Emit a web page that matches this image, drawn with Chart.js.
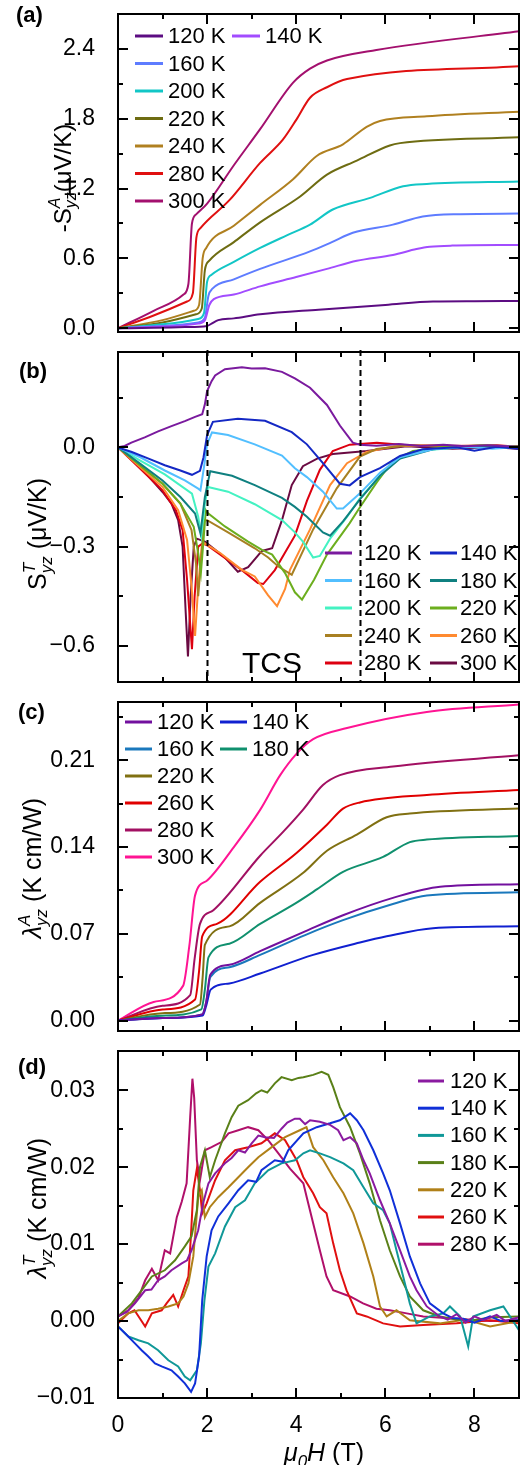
<!DOCTYPE html>
<html>
<head>
<meta charset="utf-8">
<script src="https://cdn.jsdelivr.net/npm/chart.js@4.4.1/dist/chart.umd.min.js"></script>
<style>
  html, body { margin: 0; padding: 0; background: #fff; }
  #wrap { position: relative; width: 522px; height: 1465px; overflow: hidden; }
  canvas { position: absolute; left: 0; }
</style>
</head>
<body>
<div id="wrap">
  <canvas id="pa" width="522" height="372" style="top:0px"></canvas>
  <canvas id="pb" width="522" height="390" style="top:332px"></canvas>
  <canvas id="pc" width="522" height="389" style="top:682px"></canvas>
  <canvas id="pd" width="522" height="434" style="top:1031px"></canvas>
</div>
<script>
// ─── DATA ────────────────────────────────────────────────
// shared field axis (T)
const xMajor = [0, 2, 4, 6, 8];
const xMinor = [1, 3, 5, 7, 9];
const xTickLabels = ['0', '2', '4', '6', '8'];

// (a) -S^A_yz (µV/K)
const labelsA = ['120 K', '140 K', '160 K', '200 K', '220 K', '240 K', '280 K', '300 K'];
const yMajorA = [0, 0.6, 1.2, 1.8, 2.4];
const yMinorA = [0.3, 0.9, 1.5, 2.1];
const yLabelsA = ['0.0', '0.6', '1.2', '1.8', '2.4'];
const A120 = [[0,0],[0.8,0.004],[1.5,0.01],[2.0,0.02],[2.1,0.04],[2.25,0.07],[2.6,0.085],[3.19,0.12],[4.5,0.16],[6.0,0.2],[7.07,0.23],[8,0.232],[9,0.234]];
const A140 = [[0,0],[1.0,0.015],[1.8,0.04],[1.95,0.07],[2.05,0.2],[2.15,0.25],[2.6,0.29],[3.19,0.36],[4.0,0.44],[4.69,0.51],[5.36,0.58],[6.17,0.63],[6.7,0.68],[7.0,0.70],[7.5,0.71],[9,0.715]];
const A160 = [[0,0],[1.0,0.02],[1.8,0.05],[1.95,0.09],[2.03,0.28],[2.12,0.34],[2.6,0.42],[3.19,0.51],[4.31,0.66],[4.8,0.74],[5.27,0.82],[6.17,0.89],[6.84,0.96],[7.68,0.98],[9,0.985]];
const A200 = [[0,0],[1.0,0.035],[1.8,0.08],[1.93,0.13],[2.0,0.4],[2.1,0.46],[2.6,0.57],[3.19,0.69],[3.8,0.8],[4.31,0.89],[4.82,1.02],[5.66,1.12],[6.4,1.22],[6.93,1.24],[9,1.26]];
const A220 = [[0,0],[1.0,0.05],[1.75,0.12],[1.88,0.17],[1.95,0.5],[2.05,0.58],[2.6,0.74],[3.19,0.91],[4.08,1.13],[4.69,1.32],[5.36,1.44],[6.1,1.57],[6.33,1.59],[9,1.64]];
const A240 = [[0,0],[1.0,0.07],[1.7,0.15],[1.82,0.2],[1.9,0.6],[1.98,0.69],[2.6,0.88],[3.19,1.06],[3.93,1.28],[4.46,1.48],[5.05,1.58],[5.58,1.73],[5.88,1.78],[6.93,1.82],[9,1.86]];
const A280 = [[0,0],[0.8,0.11],[1.55,0.23],[1.68,0.3],[1.76,0.78],[1.85,0.86],[2.5,1.1],[3.19,1.42],[3.7,1.62],[4.0,1.79],[4.31,1.98],[4.69,2.07],[5.14,2.14],[9,2.25]];
const A300 = [[0,0],[0.8,0.15],[1.47,0.29],[1.58,0.38],[1.66,0.9],[1.76,0.98],[2.0,1.07],[2.6,1.4],[3.19,1.71],[3.93,2.11],[4.31,2.23],[4.69,2.30],[5.8,2.39],[9,2.55]];
const seriesA = [A120, A140, A160, A200, A220, A240, A280, A300];

// (b) S^T_yz (µV/K)
const labelsB = ['120 K', '140 K', '160 K', '180 K', '200 K', '220 K', '240 K', '260 K', '280 K', '300 K'];
const yMajorB = [-0.6, -0.3, 0];
const yMinorB = [-0.45, -0.15, 0.15];
const yLabelsB = ['\u22120.6', '\u22120.3', '0.0'];
const B120 = [[0,0],[0.15,0.004],[0.3,0.014],[0.6,0.03],[0.9,0.048],[1.2,0.064],[1.5,0.079],[1.73,0.092],[1.89,0.10],[1.95,0.13],[2.0,0.17],[2.1,0.2],[2.18,0.217],[2.4,0.236],[2.78,0.242],[3.0,0.238],[3.3,0.239],[3.68,0.228],[3.97,0.208],[4.31,0.18],[4.69,0.128],[4.98,0.066],[5.27,0.014],[5.43,0.008],[5.8,0.005],[6.3,0.01],[6.8,0.004],[7.3,0.008],[7.8,0.003],[8.3,0.006],[9,0.002]];
const B140 = [[0,0],[0.31,-0.014],[0.7,-0.035],[1.05,-0.054],[1.4,-0.07],[1.66,-0.083],[1.84,-0.071],[1.92,-0.03],[2.0,0.037],[2.13,0.077],[2.69,0.086],[3.3,0.080],[3.9,0.046],[4.24,0.009],[4.6,-0.048],[4.98,-0.11],[5.2,-0.115],[5.43,-0.09],[5.88,-0.063],[6.33,-0.026],[6.84,-0.006],[7.6,0.0],[8.0,-0.01],[8.5,0.002],[9,-0.004]];
const B160 = [[0,0],[0.5,-0.03],[1.05,-0.07],[1.5,-0.1],[1.8,-0.125],[1.85,-0.13],[1.93,-0.06],[2.0,0.01],[2.11,0.045],[2.47,0.037],[3.07,0.009],[3.68,-0.025],[3.97,-0.063],[4.24,-0.09],[4.6,-0.134],[4.91,-0.185],[5.05,-0.185],[5.43,-0.139],[5.88,-0.077],[6.33,-0.03],[7.07,-0.006],[7.8,0.002],[8.4,-0.004],[9,0.001]];
const B180 = [[0,0],[0.5,-0.05],[1.0,-0.1],[1.4,-0.15],[1.73,-0.2],[1.85,-0.26],[1.95,-0.15],[2.07,-0.072],[2.56,-0.086],[3.07,-0.114],[3.68,-0.153],[3.97,-0.18],[4.24,-0.21],[4.6,-0.257],[4.76,-0.267],[5.05,-0.224],[5.43,-0.157],[5.88,-0.086],[6.33,-0.034],[7.07,-0.006],[8.0,0.003],[9,0.0]];
const B200 = [[0,0],[0.5,-0.04],[1.05,-0.082],[1.66,-0.14],[1.8,-0.21],[1.87,-0.267],[1.95,-0.17],[2.02,-0.12],[2.47,-0.134],[3.07,-0.172],[3.68,-0.22],[3.97,-0.257],[4.15,-0.285],[4.38,-0.333],[4.53,-0.328],[4.76,-0.276],[5.14,-0.21],[5.43,-0.154],[5.81,-0.097],[6.17,-0.043],[6.71,-0.011],[7.5,-0.002],[8.3,0.004],[9,0.001]];
const B220 = [[0,0],[0.5,-0.055],[1.0,-0.11],[1.4,-0.17],[1.7,-0.24],[1.8,-0.32],[1.86,-0.38],[1.92,-0.28],[1.97,-0.19],[2.0,-0.197],[2.4,-0.239],[2.92,-0.285],[3.23,-0.31],[3.46,-0.324],[3.75,-0.38],[3.97,-0.438],[4.13,-0.46],[4.4,-0.4],[4.69,-0.324],[5.2,-0.229],[5.43,-0.181],[5.81,-0.105],[6.17,-0.04],[6.62,-0.011],[7.3,0.0],[8.2,0.006],[9,0.002]];
const B240 = [[0,0],[0.5,-0.055],[1.0,-0.11],[1.4,-0.17],[1.65,-0.25],[1.75,-0.35],[1.8,-0.45],[1.86,-0.35],[1.93,-0.22],[2.0,-0.22],[2.47,-0.257],[3.07,-0.305],[3.37,-0.333],[3.6,-0.36],[3.9,-0.385],[4.38,-0.248],[4.91,-0.124],[5.43,-0.028],[5.8,-0.005],[6.5,0.006],[7.5,0.002],[9,0.004]];
const B260 = [[0,0],[0.5,-0.06],[1.0,-0.12],[1.35,-0.19],[1.55,-0.28],[1.65,-0.42],[1.73,-0.57],[1.8,-0.42],[1.88,-0.3],[1.95,-0.29],[2.3,-0.32],[2.78,-0.37],[3.07,-0.39],[3.37,-0.447],[3.57,-0.48],[3.75,-0.428],[3.86,-0.37],[4.31,-0.248],[4.76,-0.114],[5.14,-0.048],[5.58,-0.014],[6.2,0.003],[7.2,0.006],[8.2,0.002],[9,0.004]];
const B280 = [[0,0],[0.5,-0.065],[1.0,-0.13],[1.3,-0.19],[1.45,-0.25],[1.55,-0.4],[1.66,-0.61],[1.72,-0.45],[1.8,-0.3],[1.9,-0.29],[2.0,-0.296],[2.78,-0.371],[3.14,-0.41],[3.26,-0.413],[3.52,-0.371],[3.97,-0.267],[4.24,-0.162],[4.53,-0.068],[4.82,-0.011],[5.2,0.008],[5.81,0.014],[6.5,0.006],[7.5,0.004],[8.5,0.006],[9,0.002]];
const B300 = [[0,0],[0.3,-0.03],[0.6,-0.075],[1.0,-0.135],[1.2,-0.17],[1.35,-0.22],[1.45,-0.3],[1.52,-0.5],[1.57,-0.632],[1.63,-0.45],[1.7,-0.3],[1.77,-0.276],[1.95,-0.285],[2.4,-0.333],[2.69,-0.376],[2.92,-0.362],[3.23,-0.313],[3.46,-0.305],[3.68,-0.22],[3.9,-0.114],[4.15,-0.057],[4.47,-0.034],[4.82,-0.02],[5.58,-0.011],[6.48,0.003],[7.5,-0.004],[8.5,0.0],[9,-0.005]];
const seriesB = [B120, B140, B160, B180, B200, B220, B240, B260, B280, B300];
const tcsBounds = [2.0, 5.43];

// (c) λ^A_yz (K cm/W)
const labelsC = ['120 K', '140 K', '160 K', '180 K', '220 K', '260 K', '280 K', '300 K'];
const yMajorC = [0, 0.07, 0.14, 0.21];
const yMinorC = [0.035, 0.105, 0.175, 0.245];
const yLabelsC = ['0.00', '0.07', '0.14', '0.21'];
const C120 = [[0,0],[1.0,0.002],[1.89,0.005],[1.98,0.015],[2.07,0.037],[2.5,0.045],[3.19,0.056],[4.2,0.072],[5.05,0.085],[6.17,0.099],[7.23,0.108],[9,0.110]];
const C140 = [[0,0],[1.0,0.002],[1.9,0.004],[1.98,0.012],[2.08,0.025],[2.5,0.03],[3.19,0.038],[4.38,0.053],[5.43,0.063],[6.03,0.068],[7.07,0.0745],[9,0.076]];
const C160 = [[0,0],[1.0,0.002],[1.89,0.005],[1.98,0.015],[2.07,0.035],[2.5,0.043],[3.19,0.053],[4.2,0.069],[5.05,0.081],[6.17,0.094],[6.93,0.101],[9,0.1035]];
const C180 = [[0,0],[1.0,0.004],[1.87,0.009],[1.95,0.025],[2.03,0.051],[2.5,0.062],[3.19,0.078],[4.0,0.095],[4.47,0.106],[5.05,0.12],[5.95,0.132],[6.55,0.144],[6.93,0.146],[9,0.149]];
const C220 = [[0,0],[1.0,0.006],[1.84,0.013],[1.9,0.035],[1.95,0.061],[2.5,0.076],[3.19,0.095],[4.15,0.119],[4.69,0.137],[5.36,0.15],[6.03,0.164],[6.55,0.167],[9,0.171]];
const C260 = [[0,0],[1.0,0.009],[1.73,0.017],[1.82,0.04],[1.89,0.068],[2.22,0.078],[3.19,0.112],[4.0,0.135],[4.69,0.158],[5.05,0.171],[5.43,0.176],[6.93,0.182],[9,0.186]];
const C280 = [[0,0],[1.0,0.012],[1.62,0.0205],[1.72,0.05],[1.84,0.078],[2.14,0.089],[3.19,0.133],[3.7,0.152],[4.15,0.170],[4.6,0.19],[4.98,0.198],[6.17,0.205],[9,0.214]];
const C300 = [[0,0],[0.8,0.015],[1.46,0.028],[1.6,0.06],[1.73,0.101],[2.0,0.113],[2.6,0.14],[3.19,0.17],[3.64,0.198],[4.0,0.215],[4.38,0.227],[5.14,0.236],[6.93,0.249],[9,0.255]];
const seriesC = [C120, C140, C160, C180, C220, C260, C280, C300];

// (d) λ^T_yz (K cm/W)
const labelsD = ['120 K', '140 K', '160 K', '180 K', '220 K', '260 K', '280 K'];
const yMajorD = [-0.01, 0, 0.01, 0.02, 0.03];
const yMinorD = [-0.005, 0.005, 0.015, 0.025];
const yLabelsD = ['\u22120.01', '0.00', '0.01', '0.02', '0.03'];
const D120 = [[0,0.0006],[0.2,0.0012],[0.38,0.0023],[0.61,0.004],[0.75,0.0041],[0.9,0.0053],[1.05,0.0058],[1.2,0.0066],[1.43,0.0075],[1.55,0.0079],[1.65,0.0092],[1.8,0.0118],[1.91,0.0153],[2.03,0.0179],[2.18,0.0192],[2.4,0.0205],[2.55,0.0212],[2.7,0.0222],[2.85,0.0219],[3.0,0.0231],[3.15,0.0241],[3.3,0.0239],[3.5,0.0238],[3.67,0.025],[3.8,0.0258],[3.97,0.0263],[4.08,0.0263],[4.2,0.0256],[4.31,0.0261],[4.53,0.0259],[4.76,0.0255],[4.94,0.0248],[5.06,0.0235],[5.21,0.0239],[5.36,0.0231],[5.51,0.0209],[5.65,0.0192],[5.88,0.0157],[6.1,0.0127],[6.33,0.0092],[6.55,0.0058],[6.7,0.004],[6.93,0.0019],[7.22,0.0006],[7.4,0.0002],[7.6,0.0009],[7.8,-0.0002],[8.0,0.0006],[8.2,0.0001],[8.5,0.0008],[8.7,0.0],[9,0.0005]];
const D140 = [[0,-0.0007],[0.23,-0.002],[0.38,-0.0029],[0.53,-0.0038],[0.68,-0.0046],[0.83,-0.0055],[0.98,-0.0059],[1.2,-0.0064],[1.35,-0.0072],[1.5,-0.0081],[1.64,-0.0092],[1.73,-0.0081],[1.82,-0.0046],[1.89,0.0027],[1.99,0.0084],[2.1,0.0118],[2.25,0.0136],[2.48,0.0153],[2.7,0.017],[2.92,0.0183],[3.1,0.0181],[3.22,0.0196],[3.52,0.0209],[3.7,0.0207],[3.82,0.0222],[4.16,0.0244],[4.46,0.0252],[4.76,0.0257],[4.98,0.0261],[5.21,0.027],[5.36,0.0261],[5.51,0.0248],[5.73,0.0222],[5.95,0.0192],[6.1,0.017],[6.33,0.0127],[6.55,0.0084],[6.78,0.0049],[7.0,0.0023],[7.3,0.001],[7.5,0.0004],[7.75,0.0003],[8.0,-0.0002],[8.35,0.0006],[8.6,0.0],[9,0.0001]];
const D160 = [[0,-0.0007],[0.23,-0.002],[0.46,-0.0025],[0.68,-0.0029],[0.9,-0.0038],[1.13,-0.0051],[1.35,-0.0059],[1.5,-0.0072],[1.62,-0.0077],[1.77,-0.0064],[1.86,-0.0029],[1.94,0.0027],[2.03,0.0071],[2.18,0.0088],[2.4,0.0123],[2.63,0.0148],[2.85,0.0157],[3.07,0.0179],[3.37,0.0196],[3.67,0.0205],[3.97,0.0209],[4.16,0.0218],[4.31,0.0222],[4.53,0.0218],[4.76,0.0213],[5.06,0.0205],[5.28,0.0196],[5.51,0.0174],[5.73,0.0153],[5.95,0.0144],[6.1,0.0127],[6.25,0.0092],[6.4,0.0058],[6.55,0.0023],[6.7,-0.0003],[7.0,0.0006],[7.3,0.001],[7.45,0.0019],[7.68,0.0006],[7.86,-0.0033],[7.97,0.0006],[8.35,0.0014],[8.65,0.0019],[8.8,0.0006],[9,-0.0012]];
const D180 = [[0,0.0006],[0.31,0.0023],[0.53,0.004],[0.76,0.0058],[1.05,0.0066],[1.28,0.0079],[1.5,0.0097],[1.65,0.011],[1.77,0.0144],[1.84,0.02],[1.95,0.0222],[2.06,0.0187],[2.18,0.0209],[2.4,0.0244],[2.55,0.0265],[2.7,0.028],[2.92,0.0287],[3.1,0.0296],[3.22,0.03],[3.35,0.0297],[3.52,0.0309],[3.67,0.0317],[3.9,0.0313],[4.05,0.0316],[4.16,0.0317],[4.38,0.032],[4.57,0.0324],[4.72,0.032],[4.83,0.0304],[4.98,0.0278],[5.21,0.0252],[5.43,0.0218],[5.65,0.0179],[5.88,0.0131],[6.1,0.0092],[6.33,0.0058],[6.55,0.0032],[6.85,0.0014],[7.22,0.0006],[7.6,0.0002],[7.97,0.0001],[8.4,0.0005],[9,0.0006]];
const D220 = [[0,0],[0.23,0.001],[0.46,0.0014],[0.68,0.0014],[0.9,0.0016],[1.13,0.0019],[1.35,0.0023],[1.47,0.0032],[1.58,0.0049],[1.69,0.0084],[1.8,0.0161],[1.88,0.017],[1.95,0.0135],[2.06,0.0148],[2.25,0.0161],[2.48,0.0174],[2.7,0.0187],[2.92,0.02],[3.15,0.0213],[3.45,0.0226],[3.75,0.0239],[4.08,0.0248],[4.23,0.0252],[4.38,0.0226],[4.61,0.0209],[4.83,0.0187],[5.06,0.0166],[5.28,0.014],[5.51,0.0101],[5.73,0.0058],[5.88,0.0019],[6.03,0.0006],[6.25,0.0014],[6.55,0.0001],[7.22,-0.0003],[7.8,0.0002],[8.35,-0.0007],[9,0]];
const D260 = [[0,-0.0003],[0.23,0.001],[0.37,0.0014],[0.61,-0.0007],[0.76,0.001],[0.98,0.0014],[1.09,0.0023],[1.24,0.0034],[1.35,0.0019],[1.47,0.004],[1.58,0.0058],[1.64,0.0114],[1.69,0.017],[1.77,0.0198],[1.84,0.017],[1.89,0.014],[1.99,0.0153],[2.18,0.0183],[2.4,0.0209],[2.63,0.0222],[2.92,0.0226],[3.22,0.0231],[3.52,0.0244],[3.75,0.0235],[4.01,0.0209],[4.16,0.0187],[4.38,0.0166],[4.53,0.0148],[4.68,0.014],[4.83,0.0101],[4.98,0.0066],[5.13,0.004],[5.36,0.001],[5.58,0.0006],[5.95,-0.0003],[6.33,-0.0007],[6.85,-0.0005],[7.6,-0.0003],[8.35,0.0001],[9,-0.0003]];
const D280 = [[0,0.0006],[0.23,0.0014],[0.46,0.003],[0.61,0.0053],[0.76,0.0068],[0.9,0.0053],[1.05,0.0092],[1.17,0.0088],[1.32,0.0135],[1.43,0.0155],[1.54,0.0179],[1.62,0.0265],[1.67,0.0315],[1.71,0.029],[1.77,0.0209],[1.84,0.0183],[1.95,0.0222],[2.1,0.0226],[2.33,0.0233],[2.48,0.0244],[2.7,0.0248],[2.92,0.0252],[3.15,0.0248],[3.37,0.0235],[3.6,0.0218],[3.86,0.0198],[4.16,0.0179],[4.24,0.016],[4.38,0.0127],[4.53,0.0092],[4.68,0.0058],[4.83,0.004],[5.21,0.0032],[5.5,0.0023],[5.8,0.0016],[6.1,0.0014],[6.48,0.001],[6.85,0.0006],[7.6,0.0003],[8.35,0],[9,0.0001]];
const seriesD = [D120, D140, D160, D180, D220, D260, D280];

// ─── STYLE ───────────────────────────────────────────────
const FONT = '"Liberation Sans", Arial, Helvetica, sans-serif';
const colorsA = ['#5c0c82', '#a24cff', '#5e7cff', '#12c6c6', '#6e6c12', '#b08020', '#e01010', '#a3106e'];
const colorsB = ['#7a1a9e', '#1428c4', '#52bfff', '#0f8080', '#44f2c2', '#6cae1e', '#a88022', '#ff8a30', '#dd0010', '#6a0a42'];
const colorsC = ['#72109e', '#1020d0', '#1a78bc', '#10906e', '#807012', '#e00000', '#a21062', '#ff1493'];
const colorsD = ['#8a1aa0', '#1030d8', '#109898', '#5a8018', '#b08018', '#e01010', '#b0106a'];

// ─── DRAW HELPERS ────────────────────────────────────────
function richText(ctx, parts, cx, cy, rot, size) {
  ctx.save();
  ctx.translate(cx, cy);
  if (rot) ctx.rotate(-Math.PI / 2);
  const small = Math.round(size * 0.66);
  const fnt = (it, s) => (it ? 'italic ' : '') + s + 'px ' + FONT;
  let total = 0;
  const widths = parts.map(p => {
    let w;
    if ('sup' in p || 'sub' in p) {
      ctx.font = fnt(true, small);
      w = Math.max(ctx.measureText(p.sup || '').width, ctx.measureText(p.sub || '').width);
    } else {
      ctx.font = fnt(p.i, size);
      w = ctx.measureText(p.t).width;
    }
    total += w;
    return w;
  });
  let xx = -total / 2;
  const base = size * 0.36;
  ctx.fillStyle = '#000';
  ctx.textAlign = 'left';
  ctx.textBaseline = 'alphabetic';
  parts.forEach((p, i) => {
    if ('sup' in p || 'sub' in p) {
      ctx.font = fnt(true, small);
      if (p.sup) ctx.fillText(p.sup, xx, base - size * 0.44);
      if (p.sub) ctx.fillText(p.sub, xx, base + size * 0.24);
    } else {
      ctx.font = fnt(p.i, size);
      ctx.fillText(p.t, xx, base);
    }
    xx += widths[i];
  });
  ctx.restore();
}

const decoPlugin = {
  id: 'deco',
  afterDraw(chart, args, o) {
    const { ctx, chartArea: a, scales: { x, y } } = chart;
    const off = o.offset;
    ctx.save();

    // dashed guide lines
    if (o.dashed) {
      ctx.strokeStyle = '#000';
      ctx.lineWidth = 2;
      ctx.setLineDash([6, 4]);
      o.dashed.forEach(v => {
        const px = Math.round(x.getPixelForValue(v)) + 0.5;
        ctx.beginPath();
        ctx.moveTo(px, a.top - 2);
        ctx.lineTo(px, a.bottom);
        ctx.stroke();
      });
      ctx.setLineDash([]);
    }

    // frame + inward ticks
    ctx.strokeStyle = '#000';
    ctx.lineWidth = 2;
    ctx.strokeRect(a.left, a.top, a.right - a.left, a.bottom - a.top);
    ctx.beginPath();
    const xt = (vals, len) => vals.forEach(v => {
      const px = Math.round(x.getPixelForValue(v));
      ctx.moveTo(px, a.top); ctx.lineTo(px, a.top + len);
      ctx.moveTo(px, a.bottom); ctx.lineTo(px, a.bottom - len);
    });
    const yt = (vals, len) => vals.forEach(v => {
      const py = Math.round(y.getPixelForValue(v));
      ctx.moveTo(a.left, py); ctx.lineTo(a.left + len, py);
      ctx.moveTo(a.right, py); ctx.lineTo(a.right - len, py);
    });
    xt(xMajor, 10); xt(xMinor, 5);
    yt(o.yMajor, 10); yt(o.yMinor, 5);
    ctx.stroke();

    // legend
    const lg = o.legend;
    ctx.font = '22px ' + FONT;
    ctx.textBaseline = 'middle';
    ctx.textAlign = 'left';
    lg.cells.forEach(([c, r], i) => {
      const yy = lg.y0 + r * lg.dy - off;
      ctx.strokeStyle = o.colors[i];
      ctx.lineWidth = 3;
      ctx.beginPath();
      ctx.moveTo(lg.lineX[c], yy);
      ctx.lineTo(lg.lineX[c] + lg.len, yy);
      ctx.stroke();
      ctx.fillStyle = '#000';
      ctx.fillText(o.labels[i], lg.textX[c], yy + 1);
    });

    // panel tag
    ctx.font = 'bold 22px ' + FONT;
    ctx.fillStyle = '#000';
    ctx.fillText(o.tag[0], o.tag[1], o.tag[2] - off);

    if (o.note) {
      ctx.font = '30px ' + FONT;
      ctx.fillText(o.note[0], o.note[1], o.note[2] - off);
    }

    // y title
    richText(ctx, o.title, o.titlePos[0], o.titlePos[1] - off, true, o.titleSize || 25);
    if (o.xTitle) richText(ctx, o.xTitle, 324, 1452 - off, false, 25);
    ctx.restore();
  }
};

function makePanel(id, off, plotTop, plotBottom, yRange, yMajor, yMinor, yLabels,
                   labels, colors, series, smooth, showX, deco) {
  const canvas = document.getElementById(id);
  const h = canvas.height;
  return new Chart(canvas, {
    type: 'line',
    data: {
      datasets: series.map((pts, i) => ({
        label: labels[i],
        data: pts.map(([x, y]) => ({ x, y })),
        borderColor: colors[i],
        borderWidth: 2,
        pointRadius: 0,
        fill: false,
        tension: smooth ? 0.4 : 0,
        cubicInterpolationMode: smooth ? 'monotone' : 'default'
      }))
    },
    options: {
      responsive: false,
      animation: false,
      devicePixelRatio: 1,
      layout: { padding: { left: 0, right: 3, top: plotTop - off, bottom: showX ? 0 : (off + h - plotBottom) } },
      plugins: {
        legend: { display: false },
        tooltip: { enabled: false },
        deco: Object.assign({ offset: off, yMajor, yMinor, labels, colors }, deco)
      },
      scales: {
        x: {
          type: 'linear', min: 0, max: 9, display: showX,
          grid: { display: false }, border: { display: false },
          afterBuildTicks: s => { s.ticks = xMajor.map(v => ({ value: v })); },
          ticks: { autoSkip: false, maxRotation: 0, padding: 6, color: '#000',
                   font: { family: FONT, size: 23 }, callback: (v, i) => xTickLabels[i] },
          afterFit: s => { s.height = off + h - plotBottom; s.paddingLeft = 0; s.paddingRight = 0; }
        },
        y: {
          type: 'linear', min: yRange[0], max: yRange[1],
          grid: { display: false }, border: { display: false },
          afterBuildTicks: s => { s.ticks = yMajor.map(v => ({ value: v })); },
          ticks: { autoSkip: false, padding: 15, color: '#000',
                   font: { family: FONT, size: 23 }, callback: (v, i) => yLabels[i] },
          afterFit: s => { s.width = 118; s.paddingTop = 0; s.paddingBottom = 0; }
        }
      }
    },
    plugins: [decoPlugin]
  });
}

// ─── PANELS ──────────────────────────────────────────────
makePanel('pa', 0, 14, 352, [-0.032, 2.699], yMajorA, yMinorA, yLabelsA,
  labelsA, colorsA, seriesA, true, false, {
    legend: { lineX: [135, 232], textX: [168, 265], len: 28, y0: 36, dy: 27.5,
              cells: [[0,0],[1,0],[0,1],[0,2],[0,3],[0,4],[0,5],[0,6]] },
    tag: ['(a)', 16, 16],
    title: [{ t: '-S' }, { sup: 'A', sub: 'yz' }, { t: '(\u03BCV/K)' }],
    titlePos: [62, 178],
    titleSize: 24
  });

makePanel('pb', 332, 352, 702, [-0.709, 0.288], yMajorB, yMinorB, yLabelsB,
  labelsB, colorsB, seriesB, false, false, {
    legend: { lineX: [325, 430], textX: [364, 460], len: 27, y0: 553, dy: 27.5,
              cells: [[0,0],[1,0],[0,1],[1,1],[0,2],[1,2],[0,3],[1,3],[0,4],[1,4]] },
    tag: ['(b)', 19, 372],
    note: ['TCS', 242, 665],
    dashed: tcsBounds,
    title: [{ t: 'S' }, { sup: 'T', sub: 'yz' }, { t: ' (\u03BCV/K)' }],
    titlePos: [37, 534]
  });

makePanel('pc', 682, 702, 1051, [-0.0084, 0.257], yMajorC, yMinorC, yLabelsC,
  labelsC, colorsC, seriesC, true, false, {
    legend: { lineX: [125, 220], textX: [157, 252], len: 27, y0: 722, dy: 27,
              cells: [[0,0],[1,0],[0,1],[1,1],[0,2],[0,3],[0,4],[0,5]] },
    tag: ['(c)', 18, 713],
    title: [{ t: '\u03BB', i: true }, { sup: 'A', sub: 'yz' }, { t: ' (K cm/W)' }],
    titlePos: [32, 868]
  });

makePanel('pd', 1031, 1051, 1398, [-0.01, 0.0351], yMajorD, yMinorD, yLabelsD,
  labelsD, colorsD, seriesD, false, true, {
    legend: { lineX: [418], textX: [450], len: 26, y0: 1081, dy: 27.2,
              cells: [[0,0],[0,1],[0,2],[0,3],[0,4],[0,5],[0,6]] },
    tag: ['(d)', 18, 1068],
    title: [{ t: '\u03BB', i: true }, { sup: 'T', sub: 'yz' }, { t: ' (K cm/W)' }],
    titlePos: [37, 1208],
    xTitle: [{ t: '\u03BC', i: true }, { sub: '0' }, { t: 'H', i: true }, { t: ' (T)' }]
  });
</script>
</body>
</html>
